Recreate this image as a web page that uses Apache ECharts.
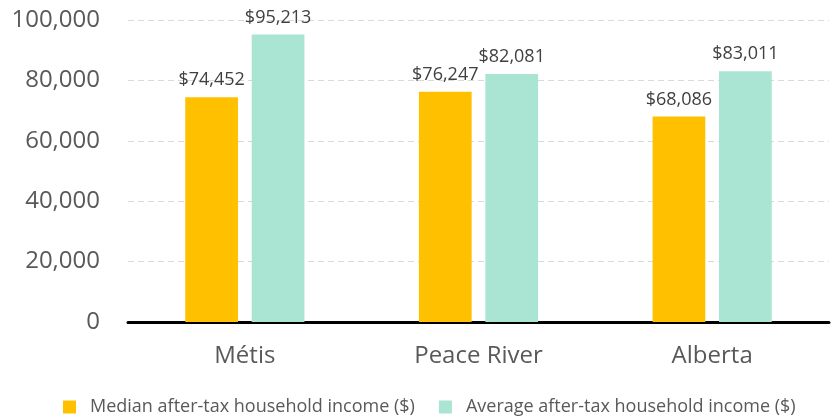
<!DOCTYPE html>
<html>
<head>
<meta charset="UTF-8">
<title>Household income</title>
<style>
  html, body { margin: 0; padding: 0; background: #fff; }
  #chart { width: 831px; height: 419px; }
</style>
<script src="https://cdn.jsdelivr.net/npm/echarts@6/dist/echarts.min.js"></script>
</head>
<body>
<div id="chart"></div>
<script>
var categories = ['Métis', 'Peace River', 'Alberta'];
var medianIncome = [74452, 76247, 68086];
var averageIncome = [95213, 82081, 83011];
var seriesNames = ['Median after-tax household income ($)', 'Average after-tax household income ($)'];

var font = '"Open Sans", "Liberation Sans", sans-serif';
var chart = echarts.init(document.getElementById('chart'));

function money(p) {
  return '$' + p.value.toLocaleString('en-US');
}

chart.setOption({
  animation: false,
  textStyle: { fontFamily: font },
  grid: { left: 128, right: 2, top: 20, bottom: 97 },
  legend: {
    top: 393,
    left: 58,
    itemWidth: 13,
    itemHeight: 13,
    itemGap: 24,
    icon: 'rect',
    textStyle: { fontSize: 18, color: '#595959', fontFamily: font, padding: [0, 0, 0, 9] },
    data: seriesNames
  },
  xAxis: {
    type: 'category',
    data: categories,
    axisLine: { lineStyle: { color: '#000', width: 3 } },
    axisTick: { show: false },
    axisLabel: { fontSize: 24, color: '#595959', margin: 22, fontFamily: font }
  },
  yAxis: {
    type: 'value',
    min: 0,
    max: 100000,
    interval: 20000,
    axisLine: { show: false },
    axisTick: { show: false },
    axisLabel: {
      fontSize: 24, color: '#595959', margin: 28, fontFamily: font,
      formatter: function (v) { return v.toLocaleString('en-US'); }
    },
    splitLine: { lineStyle: { color: '#d9d9d9', type: [6, 4], width: 1 } }
  },
  series: [
    {
      name: seriesNames[0],
      type: 'bar',
      data: medianIncome,
      barGap: '26%',
      barCategoryGap: '49%',
      itemStyle: { color: '#ffc000' },
      label: { show: true, position: 'top', distance: 8, fontSize: 18, color: '#404040', formatter: money }
    },
    {
      name: seriesNames[1],
      type: 'bar',
      data: averageIncome,
      itemStyle: { color: '#a9e5d2' },
      label: { show: true, position: 'top', distance: 8, fontSize: 18, color: '#404040', formatter: money }
    }
  ]
});
</script>
</body>
</html>
